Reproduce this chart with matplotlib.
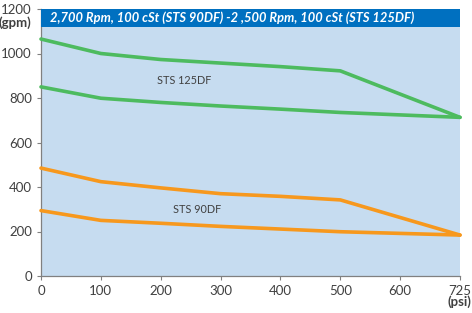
import matplotlib.pyplot as plt
from matplotlib.patches import Rectangle

# categorias do eixo x (espaçadas igualmente, como no gráfico original)
pressao_labels = ['0', '100', '200', '300', '400', '500', '600', '725']
pos_dados = [0, 1, 2, 3, 4, 5, 7]   # 600 psi não tem ponto

# vazões (gpm)
sts125_alto = [1065, 1000, 973, 957, 941, 922, 713]
sts125_baixo = [850, 799, 780, 764, 750, 735, 713]
sts90_alto = [485, 424, 396, 370, 358, 342, 184]
sts90_baixo = [294, 250, 237, 223, 211, 199, 184]

yticks = [0, 200, 400, 600, 800, 1000, 1200]

verde = '#4DBB5F'
laranja = '#F7981D'
fundo = '#C6DCF0'
azul = '#0070C0'
cinza_txt = '#404040'

plt.rcParams['font.family'] = ['Lato', 'DejaVu Sans']

fig = plt.figure(figsize=(4.72, 3.13), dpi=100)
ax = fig.add_axes([41 / 472, 1 - 276 / 313, 419 / 472, 267 / 313])
ax.set_facecolor(fundo)

for serie, cor in [(sts125_alto, verde), (sts125_baixo, verde),
                   (sts90_alto, laranja), (sts90_baixo, laranja)]:
    ax.plot(pos_dados, serie, color=cor, lw=2.6, solid_capstyle='round',
            solid_joinstyle='round', zorder=3, clip_on=False)

ax.set_xlim(0, 7)
ax.set_ylim(0, 1200)
ax.set_xticks(range(len(pressao_labels)))
ax.set_xticklabels(pressao_labels)
ax.set_yticks(yticks)
ax.tick_params(axis='both', labelsize=9.5, colors='#808080', labelcolor=cinza_txt,
               length=3, width=0.8)
for s in ['top', 'right']:
    ax.spines[s].set_visible(False)
for s in ['left', 'bottom']:
    ax.spines[s].set_color('#808080')
    ax.spines[s].set_linewidth(0.9)

# faixa de título
ax.add_patch(Rectangle((0, 1 - 18 / 267), 1, 18 / 267, transform=ax.transAxes,
                       facecolor=azul, edgecolor='none', zorder=4, clip_on=False))
ax.text(0.022, 1 - 9 / 267, '2,700 Rpm, 100 cSt (STS 90DF) -2 ,500 Rpm, 100 cSt (STS 125DF)',
        transform=ax.transAxes, color='white', fontsize=9.3, fontweight='bold',
        fontstyle='italic', va='center', ha='left', zorder=5)

ax.text(2.4, 880, 'STS 125DF', fontsize=7.8, color=cinza_txt, ha='center', va='center')
ax.text(2.6, 300, 'STS 90DF', fontsize=7.8, color=cinza_txt, ha='center', va='center')

fig.text(15 / 472, 1 - 23 / 313, '(gpm)', fontsize=9.5, fontweight='bold',
         color=cinza_txt, ha='center', va='center')
fig.text(459 / 472, 1 - 302 / 313, '(psi)', fontsize=9.5, fontweight='bold',
         color=cinza_txt, ha='center', va='center')

fig.savefig('out.png', dpi=100)
